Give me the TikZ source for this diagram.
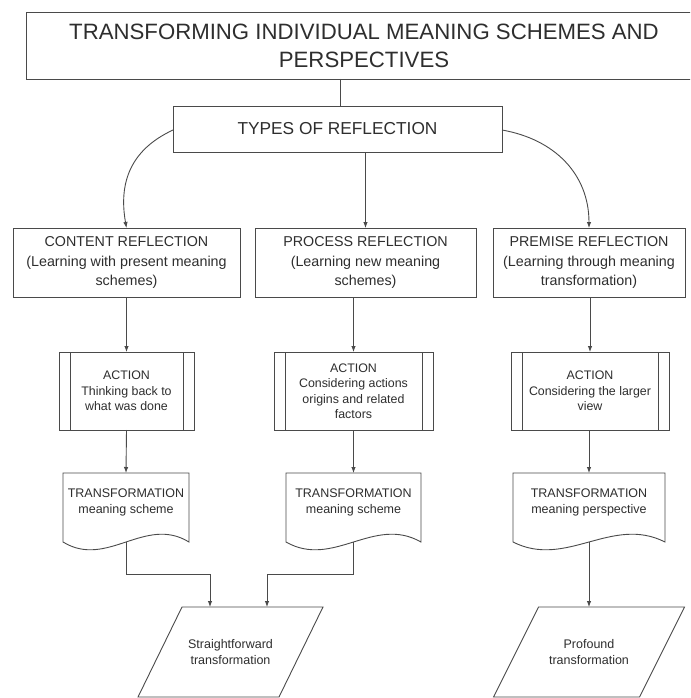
\documentclass[tikz,border=0pt]{standalone}
\usepackage{fontspec}
\setmainfont{Liberation Sans}
\usetikzlibrary{arrows.meta,calc}
\definecolor{lineg}{HTML}{4A4A4A}
\definecolor{textg}{HTML}{2E2E2E}
\begin{document}
\begin{tikzpicture}[x=1pt,y=-1pt,
  every node/.style={text=textg, inner sep=0pt, outer sep=0pt},
  ln/.style={draw=lineg, line width=0.9pt},
  arr/.style={ln, -{Latex[length=6pt,width=4.5pt]}},
  boxr/.style={ln, rectangle, align=center},
  predef/.style={boxr, path picture={
      \draw[lineg, line width=0.9pt] ([xshift=11pt]path picture bounding box.north west) -- ([xshift=11pt]path picture bounding box.south west);
      \draw[lineg, line width=0.9pt] ([xshift=-11pt]path picture bounding box.north east) -- ([xshift=-11pt]path picture bounding box.south east);}},
  titlefont/.style={font=\fontsize{22.2}{28}\selectfont},
  typesfont/.style={font=\fontsize{17.3}{21}\selectfont},
  reffont/.style={font=\fontsize{14.3}{19.5}\selectfont},
  smallfont/.style={font=\fontsize{12.4}{15.5}\selectfont},
  docfont/.style={font=\fontsize{12.5}{16.5}\selectfont},
]
\useasboundingbox (0,0) rectangle (690,698);
\clip (0,0) rectangle (690,698);
\fill[white] (0,0) rectangle (690,698);

% title
\node[boxr, titlefont, minimum width=676, minimum height=67] (title) at (364,45.5)
  {TRANSFORMING INDIVIDUAL MEANING SCHEMES AND\\PERSPECTIVES};
% types
\node[boxr, typesfont, minimum width=329, minimum height=46] (types) at (337.5,129) {TYPES OF REFLECTION};
\coordinate (tx) at (340,0);
\draw[ln] (title.south -| tx) -- (types.north -| tx);

% reflection boxes
\node[boxr, reffont, minimum width=227, minimum height=69] (c1) at (126.5,262.5)
  {CONTENT REFLECTION\\(Learning with present meaning\\schemes)};
\node[boxr, reffont, minimum width=221, minimum height=69] (c2) at (365.5,262.5)
  {PROCESS REFLECTION\\(Learning new meaning\\schemes)};
\node[boxr, reffont, minimum width=192, minimum height=69] (c3) at (589,262.5)
  {PREMISE REFLECTION\\(Learning through meaning\\transformation)};

\draw[arr] ([yshift=-1pt]types.west) to[out=205, in=100, looseness=1.1] (c1.north);
\draw[arr] (c2.north |- types.south) -- (c2.north);
\draw[arr] ([yshift=-1pt]types.east) to[out=-10, in=90, looseness=1.05] (c3.north);

% action boxes
\node[predef, smallfont, minimum width=135, minimum height=78] (a1) at (126.5,391)
  {ACTION\\Thinking back to\\what was done};
\node[predef, smallfont, minimum width=159, minimum height=78] (a2) at (353.5,391)
  {ACTION\\Considering actions\\origins and related\\factors};
\node[predef, smallfont, minimum width=158, minimum height=78] (a3) at (590,391)
  {ACTION\\Considering the larger\\view};

\draw[arr] (c1.south) -- (a1.north);
\draw[arr] (a2.north |- c2.south) -- (a2.north);
\draw[arr] (c3.south -| a3.north) -- (a3.north);

% document shapes
\node[docfont, align=center, minimum width=126, minimum height=59] (d1) at (126,502.5)
  {TRANSFORMATION\\meaning scheme};
\node[docfont, align=center, minimum width=135, minimum height=59] (d2) at (353.5,502.5)
  {TRANSFORMATION\\meaning scheme};
\node[docfont, align=center, minimum width=152, minimum height=59] (d3) at (589,502.5)
  {TRANSFORMATION\\meaning perspective};

\foreach \d in {d1,d2,d3}{
  \draw[ln] let \p1=(\d.north west), \p2=(\d.south east), \n1={\x2-\x1} in
    (\p1) -- (\x2,\y1) -- (\x2,\y2-10pt)
    .. controls (\x2-0.35*\n1,\y2-10pt+27pt) and (\x1+0.35*\n1,\y2-10pt-27pt) .. (\x1,\y2-10pt) -- cycle;
}

\draw[arr] (a1.south) -- (d1.north);
\draw[arr] (a2.south) -- (d2.north);
\draw[arr] (a3.south -| d3.north) -- (d3.north);

% parallelograms
\node[docfont, align=center, minimum width=141, minimum height=90] (p1) at (230.5,652)
  {Straightforward\\transformation};
\node[docfont, align=center, minimum width=146, minimum height=90] (p2) at (589,652)
  {Profound\\transformation};
\draw[ln] ([xshift=22pt]p1.north west) -- ([xshift=22pt]p1.north east)
  -- ([xshift=-22pt]p1.south east) -- ([xshift=-22pt]p1.south west) -- cycle;
\draw[ln] ([xshift=22.5pt]p2.north west) -- ([xshift=22.5pt]p2.north east)
  -- ([xshift=-22.5pt]p2.south east) -- ([xshift=-22.5pt]p2.south west) -- cycle;

\coordinate (j1) at (210,574);
\coordinate (j2) at (267,574);
\draw[arr] ([yshift=-10pt]d1.south) |- (j1) -- (j1 |- p1.north);
\draw[arr] ([yshift=-10pt]d2.south) |- (j2) -- (j2 |- p1.north);
\draw[arr] ([yshift=-10pt]d3.south) -- (p2.north);
\end{tikzpicture}
\end{document}
